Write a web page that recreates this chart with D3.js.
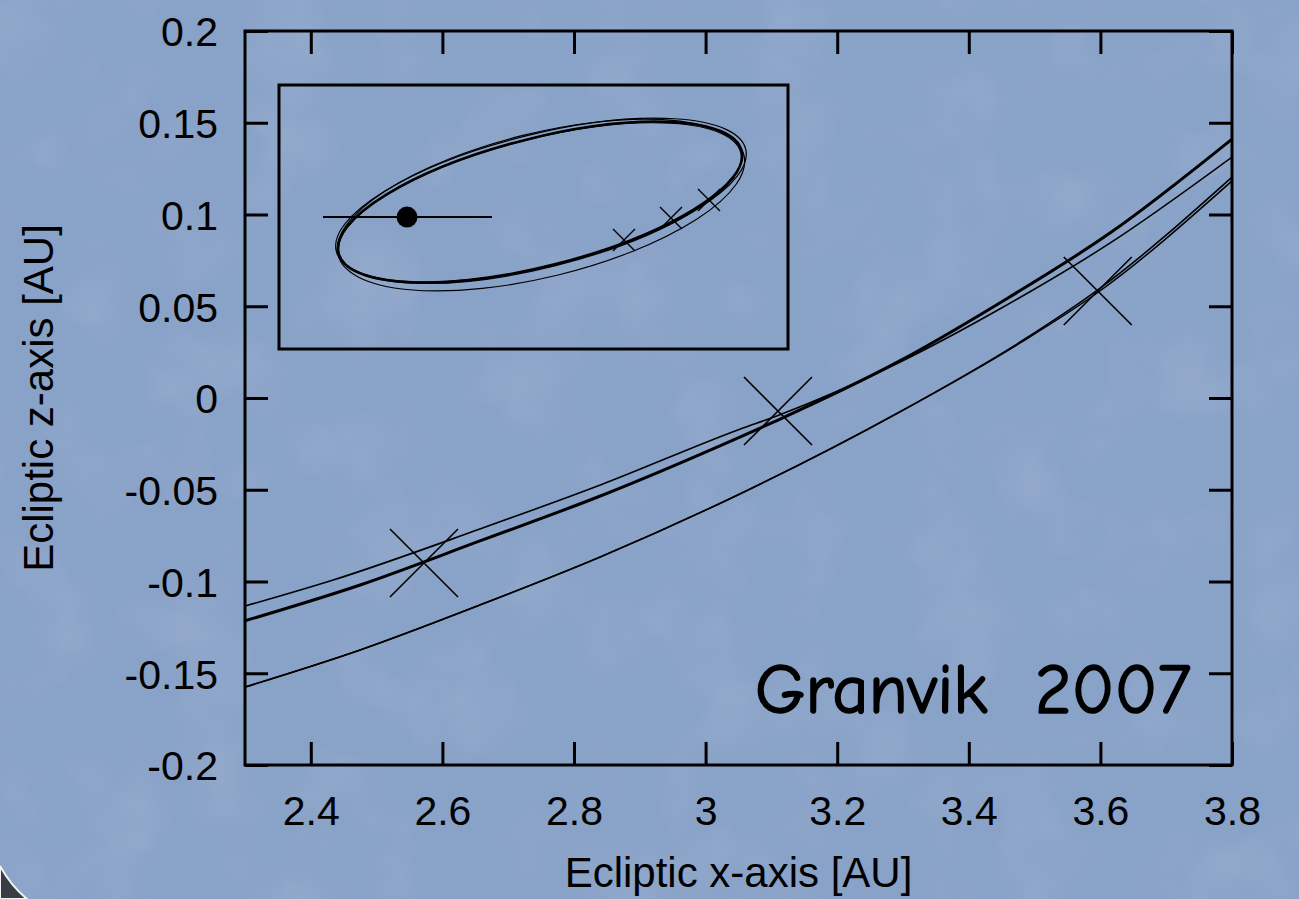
<!DOCTYPE html>
<html>
<head>
<meta charset="utf-8">
<script src="https://cdn.jsdelivr.net/npm/d3@7"></script>
<style>
  html, body { margin: 0; padding: 0; background: #8ba4c8; }
  svg { display: block; }
</style>
</head>
<body>
<svg id="chart" width="1299" height="899"></svg>
<script>
// ---------------- data ----------------
const xTickValues = [2.4, 2.6, 2.8, 3.0, 3.2, 3.4, 3.6, 3.8];
const xTickLabels = ["2.4", "2.6", "2.8", "3", "3.2", "3.4", "3.6", "3.8"];
const yTickValues = [0.2, 0.15, 0.1, 0.05, 0, -0.05, -0.1, -0.15, -0.2];
const yTickLabels = ["0.2", "0.15", "0.1", "0.05", "0", "-0.05", "-0.1", "-0.15", "-0.2"];

// main panel orbits (ecliptic x vs z, AU)
const orbitThickX = [2.300, 2.475, 2.657, 2.840, 3.052, 3.110, 3.295, 3.447, 3.615, 3.800];
const orbitThickZ = [-0.1214, -0.1019, -0.0779, -0.0534, -0.0213, -0.0120, 0.0202, 0.0518, 0.0900, 0.1411];
const orbitUpperX = [2.300, 2.434, 2.657, 2.840, 3.052, 3.110, 3.295, 3.447, 3.615, 3.800];
const orbitUpperZ = [-0.1134, -0.0992, -0.0714, -0.0474, -0.0170, -0.0095, 0.0195, 0.0485, 0.0845, 0.1313];
const orbitLowerAX = [2.300, 2.475, 2.657, 2.840, 3.052, 3.295, 3.478, 3.596, 3.800];
const orbitLowerAZ = [-0.1575, -0.1373, -0.1128, -0.0866, -0.0523, -0.0076, 0.0305, 0.0589, 0.1204];
const orbitLowerBX = [2.300, 2.475, 2.657, 2.840, 3.052, 3.295, 3.478, 3.596, 3.800];
const orbitLowerBZ = [-0.1575, -0.1373, -0.1128, -0.0866, -0.0523, -0.0076, 0.0300, 0.0575, 0.1183];

// observation crosses in main panel
const obsX = [2.572, 3.110, 3.596];
const obsZ = [-0.0899, -0.0071, 0.0583];

// inset (arbitrary units): orbit ellipses
const insetOrbitCX    = [5.128, 5.147, 5.147, 5.128];
const insetOrbitCY    = [2.888, 2.927, 2.829, 2.868];
const insetOrbitA     = [4.086, 4.145, 4.106, 4.067];
const insetOrbitB     = [1.257, 1.297, 1.415, 1.267];
const insetOrbitAngle = [14.3, 14.0, 13.8, 14.1];
const insetOrbitThick = [true, false, false, false];
// inset crosses
const insetObsX = [6.778, 7.701, 8.448];
const insetObsY = [2.141, 2.574, 2.927];
// inset point with error bar
const insetDotX = 2.515, insetDotY = 2.593;
const insetErrLo = 0.864, insetErrHi = 4.185;

const annotation = "Granvik  2007";
const xTitle = "Ecliptic x-axis [AU]";
const yTitle = "Ecliptic z-axis [AU]";

// ---------------- drawing ----------------
const svg = d3.select("#chart");
const W = 1299, H = 899;
const L = 245, R = 1232, T = 31, B = 765;
const FONT = "'Liberation Sans', Arial, Helvetica, sans-serif";

// background with subtle texture
const defs = svg.append("defs");
const filt = defs.append("filter").attr("id", "tex").attr("x", 0).attr("y", 0).attr("width", 1).attr("height", 1);
filt.append("feTurbulence").attr("type", "fractalNoise").attr("baseFrequency", 0.012).attr("numOctaves", 3).attr("seed", 4).attr("result", "n");
filt.append("feColorMatrix").attr("in", "n").attr("type", "matrix")
  .attr("values", "0 0 0 0 1  0 0 0 0 1  0 0 0 0 1  0.9 0 0 0 -0.42");
svg.append("rect").attr("width", W).attr("height", H).attr("fill", "#89a2c7");
svg.append("rect").attr("width", W).attr("height", H).attr("filter", "url(#tex)").attr("opacity", 0.22);

// bottom-left corner artefact
svg.append("path")
  .attr("d", "M0,866 Q11,886 27,899 L0,899 Z")
  .attr("fill", "#3a3d44").attr("stroke", "#f2f2f2").attr("stroke-width", 2);

const x = d3.scaleLinear().domain([2.3, 3.8]).range([L, R]);
const y = d3.scaleLinear().domain([-0.2, 0.2]).range([B, T]);

defs.append("clipPath").attr("id", "plotclip")
  .append("rect").attr("x", L).attr("y", T).attr("width", R - L).attr("height", B - T);

// axes
function styleAxis(g) {
  g.select(".domain").remove();
  g.selectAll(".tick line").attr("stroke", "#000").attr("stroke-width", 3);
  g.selectAll(".tick text").attr("fill", "#000").style("font-family", FONT).style("font-size", "41px");
}
svg.append("g").attr("transform", `translate(0,${B})`)
  .call(d3.axisBottom(x).tickValues(xTickValues).tickSize(-23).tickPadding(31)
    .tickFormat((d, i) => xTickLabels[i]))
  .call(styleAxis);
svg.append("g").attr("transform", `translate(0,${T})`)
  .call(d3.axisTop(x).tickValues(xTickValues).tickSize(-23).tickFormat(""))
  .call(styleAxis);
const yAx = svg.append("g").attr("transform", `translate(${L},0)`)
  .call(d3.axisLeft(y).tickValues(yTickValues).tickSize(-23).tickPadding(27)
    .tickFormat((d, i) => yTickLabels[i]))
  .call(styleAxis);
yAx.selectAll(".tick text").attr("dy", "0.36em");
svg.append("g").attr("transform", `translate(${R},0)`)
  .call(d3.axisRight(y).tickValues(yTickValues).tickSize(-23).tickFormat(""))
  .call(styleAxis);

// frame
svg.append("rect").attr("x", L).attr("y", T).attr("width", R - L).attr("height", B - T)
  .attr("fill", "none").attr("stroke", "#000").attr("stroke-width", 3);

// axis titles
svg.append("text").attr("x", (L + R) / 2).attr("y", 887).attr("text-anchor", "middle")
  .style("font-family", FONT).style("font-size", "42px").attr("fill", "#000").text(xTitle);
svg.append("text").attr("transform", `translate(53,${(T + B) / 2}) rotate(-90)`).attr("text-anchor", "middle")
  .style("font-family", FONT).style("font-size", "42px").attr("fill", "#000").text(yTitle);

// orbit curves
const line = d3.line().x(d => x(d[0])).y(d => y(d[1])).curve(d3.curveMonotoneX);
const curves = [
  { xs: orbitLowerBX, zs: orbitLowerBZ, w: 1.5 },
  { xs: orbitLowerAX, zs: orbitLowerAZ, w: 1.6 },
  { xs: orbitUpperX, zs: orbitUpperZ, w: 1.6 },
  { xs: orbitThickX, zs: orbitThickZ, w: 3.0 }
];
const cg = svg.append("g").attr("clip-path", "url(#plotclip)");
curves.forEach(c => {
  cg.append("path").datum(c.xs.map((v, i) => [v, c.zs[i]]))
    .attr("d", line).attr("fill", "none").attr("stroke", "#000")
    .attr("stroke-width", c.w).attr("stroke-linejoin", "round");
});

// observation crosses (main)
const crossPath = s => `M${-s},${-s}L${s},${s}M${-s},${s}L${s},${-s}`;
svg.append("g").selectAll("path").data(obsX).join("path")
  .attr("transform", (d, i) => `translate(${x(d)},${y(obsZ[i])})`)
  .attr("d", crossPath(34)).attr("stroke", "#000").attr("stroke-width", 1.6).attr("fill", "none");

// inset
const ix = d3.scaleLinear().domain([0, 10]).range([279, 788]);
const iy = d3.scaleLinear().domain([0, 5.19]).range([349, 85]);
const ig = svg.append("g");
ig.append("rect").attr("x", ix(0)).attr("y", iy(5.19)).attr("width", ix(10) - ix(0)).attr("height", iy(0) - iy(5.19))
  .attr("fill", "none").attr("stroke", "#000").attr("stroke-width", 3);

insetOrbitCX.forEach((cx, i) => {
  const px = ix(cx), py = iy(insetOrbitCY[i]);
  ig.append("ellipse")
    .attr("cx", px).attr("cy", py)
    .attr("rx", ix(cx + insetOrbitA[i]) - px)
    .attr("ry", py - iy(insetOrbitCY[i] + insetOrbitB[i]))
    .attr("transform", `rotate(${-insetOrbitAngle[i]},${px},${py})`)
    .attr("fill", "none").attr("stroke", "#000")
    .attr("stroke-width", insetOrbitThick[i] ? 2.6 : 1.2);
});

ig.append("g").selectAll("path").data(insetObsX).join("path")
  .attr("transform", (d, i) => `translate(${ix(d)},${iy(insetObsY[i])})`)
  .attr("d", crossPath(11)).attr("stroke", "#000").attr("stroke-width", 1.4).attr("fill", "none");

ig.append("line").attr("x1", ix(insetErrLo)).attr("x2", ix(insetErrHi))
  .attr("y1", iy(insetDotY)).attr("y2", iy(insetDotY))
  .attr("stroke", "#000").attr("stroke-width", 2);
ig.append("circle").attr("cx", ix(insetDotX)).attr("cy", iy(insetDotY)).attr("r", 10.5).attr("fill", "#000");

// annotation
svg.append("text").attr("x", 755).attr("y", 713)
  .attr("xml:space", "preserve").style("white-space", "pre")
  .attr("textLength", 436).attr("lengthAdjust", "spacingAndGlyphs")
  .style("font-family", "'Comic Sans MS', 'Comic Neue', 'DejaVu Sans', sans-serif")
  .style("font-size", "70px").attr("fill", "#000")
  .attr("stroke", "#000").attr("stroke-width", 1.6).attr("stroke-linejoin", "round")
  .text(annotation);
</script>
</body>
</html>
